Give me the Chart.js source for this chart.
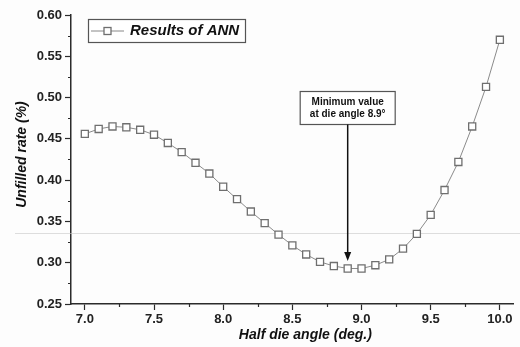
<!DOCTYPE html>
<html>
<head>
<meta charset="utf-8">
<script src="https://cdn.jsdelivr.net/npm/chart.js@4.4.1/dist/chart.umd.min.js"></script>
<style>
  html, body { margin: 0; padding: 0; background: #fdfdfd; }
  #wrap { width: 520px; height: 347px; }
</style>
</head>
<body>
<div id="wrap"><canvas id="myChart" width="520" height="347"></canvas></div>
<script>
// half die angle (deg.)
const angles = [7.0, 7.1, 7.2, 7.3, 7.4, 7.5, 7.6, 7.7, 7.8, 7.9,
                8.0, 8.1, 8.2, 8.3, 8.4, 8.5, 8.6, 8.7, 8.8, 8.9,
                9.0, 9.1, 9.2, 9.3, 9.4, 9.5, 9.6, 9.7, 9.8, 9.9, 10.0];
// unfilled rate (%) from the ANN
const unfilled = [0.456, 0.462, 0.465, 0.464, 0.461, 0.455, 0.445, 0.434, 0.421, 0.408,
                  0.392, 0.377, 0.362, 0.348, 0.334, 0.321, 0.310, 0.301, 0.296, 0.293,
                  0.293, 0.297, 0.304, 0.317, 0.335, 0.358, 0.388, 0.422, 0.465, 0.513, 0.570];
const xTicks = [7.0, 7.5, 8.0, 8.5, 9.0, 9.5, 10.0];
const yTicks = [0.25, 0.30, 0.35, 0.40, 0.45, 0.50, 0.55, 0.60];
const seriesName = 'Results of ANN';
const noteLines = ['Minimum value', 'at die angle 8.9\u00b0'];
const noteAt = { x: 8.9, y: 0.508 };   // top centre of the note box
const arrowTipAt = 0.302;

const dark = '#2b2b2b';
const markerGray = '#6f6f6f';
const fontFam = '"Liberation Sans", Arial, sans-serif';

// minor ticks, legend, note + arrow, axis titles, scan line
const extras = {
  id: 'extras',
  beforeDatasetsDraw(chart) {
    const ctx = chart.ctx
    const y = chart.scales.y
    // faint horizontal line from the scanned original
    ctx.save()
    ctx.strokeStyle = 'rgba(200,200,200,0.6)'
    ctx.lineWidth = 1
    const ly = Math.round(y.getPixelForValue(0.336)) + 0.5
    ctx.beginPath()
    ctx.moveTo(15, ly)
    ctx.lineTo(chart.width, ly)
    ctx.stroke()
    ctx.restore()
  },
  afterDraw(chart) {
    const ctx = chart.ctx
    const x = chart.scales.x, y = chart.scales.y
    const area = chart.chartArea
    ctx.save()

    // minor ticks
    ctx.strokeStyle = dark
    ctx.lineWidth = 1.2
    ctx.beginPath()
    for (let i = 0; i < xTicks.length - 1; i++) {
      const px = Math.round(x.getPixelForValue((xTicks[i] + xTicks[i + 1]) / 2)) + 0.5
      ctx.moveTo(px, area.bottom)
      ctx.lineTo(px, area.bottom + 3)
    }
    for (let i = 0; i < yTicks.length - 1; i++) {
      const py = Math.round(y.getPixelForValue((yTicks[i] + yTicks[i + 1]) / 2)) + 0.5
      ctx.moveTo(area.left, py)
      ctx.lineTo(area.left - 3, py)
    }
    ctx.stroke()

    // legend
    const lx = area.left + 17, ly = area.top + 4, lw = 157, lh = 23
    ctx.fillStyle = '#ffffff'
    ctx.fillRect(lx, ly, lw, lh)
    ctx.strokeStyle = '#555'
    ctx.lineWidth = 1.2
    ctx.strokeRect(lx + 0.5, ly + 0.5, lw, lh)
    const cy = ly + lh / 2 + 0.5
    ctx.strokeStyle = '#888'
    ctx.lineWidth = 1
    ctx.beginPath()
    ctx.moveTo(lx + 3, cy)
    ctx.lineTo(lx + 36, cy)
    ctx.stroke()
    ctx.fillStyle = '#fff'
    ctx.fillRect(lx + 16, cy - 3.5, 7, 7)
    ctx.strokeStyle = markerGray
    ctx.lineWidth = 1.3
    ctx.strokeRect(lx + 16, cy - 3.5, 7, 7)
    ctx.fillStyle = '#111'
    ctx.font = 'italic bold 15px ' + fontFam
    ctx.textAlign = 'left'
    ctx.textBaseline = 'middle'
    ctx.fillText(seriesName, lx + 42, cy)

    // note box and arrow
    const nx = x.getPixelForValue(noteAt.x), ny = Math.round(y.getPixelForValue(noteAt.y)) + 0.5
    const bw = 95, bh = 33
    ctx.fillStyle = '#fff'
    ctx.fillRect(nx - bw / 2, ny, bw, bh)
    ctx.strokeStyle = '#555'
    ctx.lineWidth = 1.2
    ctx.strokeRect(nx - bw / 2, ny, bw, bh)
    ctx.fillStyle = '#111'
    ctx.font = 'bold 10px ' + fontFam
    ctx.textAlign = 'center'
    ctx.fillText(noteLines[0], nx, ny + 11)
    ctx.fillText(noteLines[1], nx, ny + 23)
    const tip = y.getPixelForValue(arrowTipAt)
    ctx.strokeStyle = '#111'
    ctx.lineWidth = 1.5
    ctx.beginPath()
    ctx.moveTo(nx, ny + bh)
    ctx.lineTo(nx, tip - 6)
    ctx.stroke()
    ctx.fillStyle = '#111'
    ctx.beginPath()
    ctx.moveTo(nx, tip)
    ctx.lineTo(nx - 3.5, tip - 9)
    ctx.lineTo(nx + 3.5, tip - 9)
    ctx.closePath()
    ctx.fill()

    // axis titles
    ctx.fillStyle = '#111'
    ctx.font = 'italic bold 14px ' + fontFam
    ctx.textAlign = 'center'
    ctx.textBaseline = 'middle'
    ctx.fillText('Half die angle (deg.)', (area.left + area.right) / 2 + 13, area.bottom + 31)
    ctx.translate(22, (area.top + area.bottom) / 2 - 5)
    ctx.rotate(-Math.PI / 2)
    ctx.fillText('Unfilled rate (%)', 0, 0)
    ctx.restore()
  }
};

const data = {
  labels: angles,
  datasets: [{
    label: seriesName,
    data: angles.map((a, i) => ({ x: a, y: unfilled[i] })),
    borderColor: '#8a8a8a',
    borderWidth: 1,
    pointStyle: 'rect',
    pointRadius: 5,
    pointBorderWidth: 1.3,
    pointBorderColor: markerGray,
    pointBackgroundColor: '#ffffff',
    tension: 0
  }]
};

const config = {
  type: 'line',
  data: data,
  options: {
    responsive: false,
    animation: false,
    layout: { padding: { top: 15, right: 4, left: 0, bottom: 0 } },
    plugins: {
      legend: { display: false },
      tooltip: { enabled: false }
    },
    scales: {
      x: {
        type: 'linear',
        min: 6.9,
        max: 10.1,
        afterFit: (s) => { s.height = 43 },
        afterBuildTicks: (s) => { s.ticks = xTicks.map(v => ({ value: v })) },
        border: { color: dark, width: 1.5 },
        grid: { drawOnChartArea: false, drawTicks: true, tickLength: 6, tickColor: dark, tickWidth: 1.2 },
        ticks: {
          padding: 2,
          color: '#222',
          font: { family: fontFam, size: 13, weight: 'bold' },
          maxRotation: 0,
          callback: (v) => v.toFixed(1)
        }
      },
      y: {
        min: 0.25,
        max: 0.60,
        afterFit: (s) => { s.width = 71 },
        afterBuildTicks: (s) => { s.ticks = yTicks.map(v => ({ value: v })) },
        border: { color: dark, width: 1.5 },
        grid: { drawOnChartArea: false, drawTicks: true, tickLength: 6, tickColor: dark, tickWidth: 1.2 },
        ticks: {
          padding: 3,
          color: '#222',
          font: { family: fontFam, size: 13, weight: 'bold' },
          callback: (v) => v.toFixed(2)
        }
      }
    }
  },
  plugins: [extras]
};

const myChart = new Chart(document.getElementById('myChart'), config);
</script>
</body>
</html>
